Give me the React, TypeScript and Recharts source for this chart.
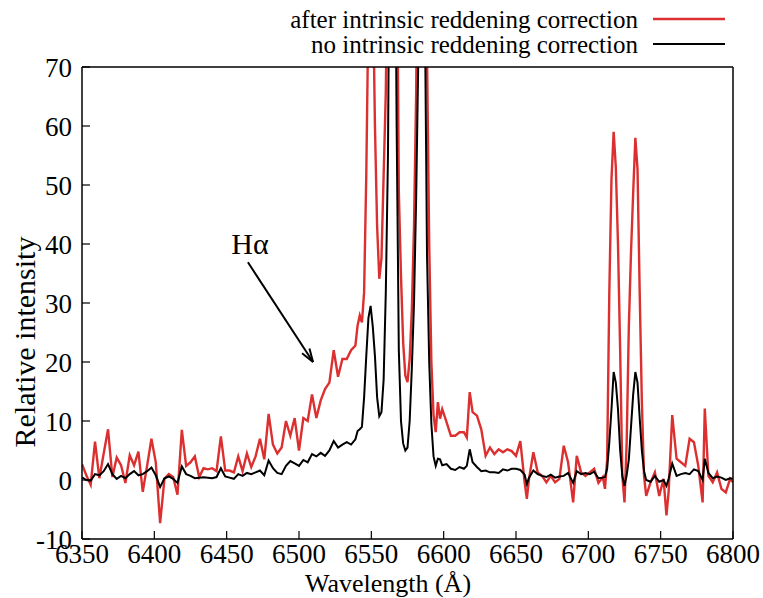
import { LineChart, Line, XAxis, YAxis, ReferenceLine } from 'recharts';

// wavelength grid (Å), finer around the emission lines
const wavelength = [
  6350, 6353, 6356, 6359, 6362, 6365, 6368, 6371, 6374, 6377,
  6380, 6383, 6386, 6389, 6392, 6395, 6398, 6401, 6404, 6407,
  6410, 6413, 6416, 6419, 6422, 6425, 6428, 6431, 6434, 6437,
  6440, 6443, 6446, 6449, 6452, 6455, 6458, 6461, 6464, 6467,
  6470, 6473, 6476, 6479, 6482, 6485, 6488, 6491, 6494, 6497,
  6500, 6503, 6506, 6509, 6512, 6515, 6518, 6521, 6524, 6527,
  6530, 6533, 6536,
  6539, 6540.5, 6542, 6543.5, 6545, 6546.5, 6548, 6549.5, 6551, 6552.5,
  6554, 6555.5, 6557, 6558.5, 6560, 6561.5, 6563, 6564.5, 6566, 6567.5,
  6569, 6570.5, 6572, 6573.5, 6575, 6576.5, 6578, 6579.5, 6581, 6582.5,
  6584, 6585.5, 6587, 6588.5, 6590, 6591.5, 6593, 6594.5, 6596, 6597.5,
  6599,
  6602, 6605, 6608, 6611, 6614, 6616, 6618, 6620, 6623, 6626,
  6629, 6632, 6635, 6638, 6641, 6644, 6647, 6650, 6653, 6656,
  6657.5, 6659, 6662, 6665, 6668, 6671, 6674, 6677, 6680, 6683,
  6686, 6689.5, 6692, 6695, 6698, 6701, 6704, 6707,
  6710, 6711.5, 6713, 6714.5, 6716, 6717.5, 6719, 6720.5, 6722, 6723.5,
  6725, 6726.5, 6728, 6729.5, 6731, 6732.5, 6734, 6735.5, 6737, 6738.5,
  6740, 6743, 6746, 6749, 6752, 6754, 6755.5, 6758, 6761, 6764,
  6767, 6770, 6773, 6776, 6779, 6780.5, 6783, 6786, 6789, 6792,
  6795, 6798, 6800,
];

// after intrinsic reddening correction
const corrected = [
  2.7, 0.8, -0.8, 6.5, 0.3, 4.5, 8.6, 0.5, 3.8, 2.5,
  -0.5, 4.2, 2.5, 4.8, -2.0, 2.4, 7.0, 3.0, -7.3, 0.2,
  1.0, 0.5, -2.5, 8.5, 2.4, 3.0, 4.0, 0.5, 2.0, 1.8,
  2.0, 1.5, 7.4, 1.6, 1.6, 1.3, 4.0, 1.5, 4.5, 2.2,
  4.0, 7.0, 3.5, 11.2, 6.0, 4.5, 5.5, 10.0, 7.5, 10.5,
  5.0, 10.5, 10.0, 14.5, 10.5, 13.5, 15.4, 16.5, 22.0, 17.5,
  20.5, 20.5, 22.0,
  22.8, 26.2, 27.9, 26.7, 31.8, 51.6, 80, 90, 85, 60,
  43, 34.1, 37.5, 51.6, 65.7, 95, 160, 200, 160, 100,
  48.8, 34.6, 23.3, 17.7, 16.6, 20.5, 28.9, 43, 65.7, 110,
  150, 140, 110, 72, 40, 20, 11, 8.1, 13.2, 10.4,
  12.0,
  9.8, 7.5, 7.5, 8.1, 8.1, 7.2, 14.9, 11.5, 10.9, 8.6,
  4.1, 5.5, 4.4, 5.2, 4.7, 5.2, 4.9, 4.1, 6.6, -0.5,
  -3.2, 0.2, 4.7, 1.3, 0.7, -0.4, 0.7, -0.4, 0.2, 5.8,
  3.0, -3.8, 4.1, 1.3, 0.7, 1.3, 1.9, -0.5,
  0.5, -1.5, 3.5, 31.8, 51, 59, 53, 40, 22, 0.7,
  -3.8, 6.4, 26, 38.6, 48.7, 58, 52.7, 31.8, 13.2, 0.7,
  -2.7, -0.4, 1.3, -2.7, 0.2, -6.0, -2.0, 11.0, 3.6, 3.0,
  2.4, 7.0, 6.4, 2.4, -3.8, 12.1, 0.7, -0.4, 1.3, -1.5,
  -2.1, 0.2, -0.4,
];

// no intrinsic reddening correction
const uncorrected = [
  0.45, 0.0, -0.1, 1.0, 0.8, 1.5, 2.7, 1.0, 0.2, 0.7,
  0.3, 1.0, 1.5, 0.8, 1.0, 1.5, 2.1, 0.8, -1.2, 0.3,
  0.6, 0.2, -0.5, 2.3, 1.0, 0.7, 0.3, 0.4, 0.45, 0.4,
  0.3, 0.5, 2.0, 0.6, 0.4, 0.2, 1.0, 0.7, 1.2, 1.0,
  1.3, 1.6, 0.8, 3.3, 2.0, 1.2, 1.0, 2.4, 3.2, 2.8,
  2.4, 3.4, 3.0, 4.4, 4.0, 4.6, 4.1, 5.0, 6.6, 5.5,
  6.0, 6.4, 6.0,
  6.9, 8.3, 8.6, 9.0, 14.0, 21.0, 27.5, 29.5, 26.0, 21.0,
  14.0, 10.8, 11.5, 17.0, 31.8, 55, 110, 140, 110, 60,
  22, 10, 6.2, 5.0, 5.5, 10.0, 19, 30, 48, 72,
  110, 100, 80, 38, 20, 9.5, 4.0, 2.4, 3.6, 3.5,
  2.5,
  2.7, 1.9, 1.7, 2.2, 1.9, 2.4, 5.2, 3.0, 2.2, 1.5,
  1.6, 1.3, 1.3, 1.2, 1.8, 1.6, 1.9, 1.9, 1.7, 0.9,
  -0.7, 0.4, 1.6, 1.0, 0.7, 0.5, 0.9, 0.4, 0.6, 0.7,
  1.2, -0.5, 1.5, 1.0, 1.2, 1.0, 1.4, 0.3,
  0.4, 0.5, 1.9, 6.4, 12, 18.3, 16.5, 12, 5, 0.7,
  -1.0, 0.8, 3.5, 9, 14.5, 18.3, 16.5, 10.5, 5.0, 1.5,
  0.0, -0.3, 0.7, -0.3, 0.0, -1.0, 0.2, 2.8, 0.7, 1.0,
  1.2, 1.0, 1.8, 1.5, 0.0, 3.6, 1.2, 0.3, 0.6, 0.4,
  0.0, 0.3, 0.2,
];

const xTicks = [6350, 6400, 6450, 6500, 6550, 6600, 6650, 6700, 6750, 6800];
const yTicks = [-10, 0, 10, 20, 30, 40, 50, 60, 70];

// annotation arrow: from label to the Hα wing
const arrowFrom = { x: 6464.7, y: 36.9 };
const arrowTo = { x: 6509.7, y: 20 };

const RED = '#dc3030';
const FONT = '"Liberation Serif", Tinos, "Noto Serif", FreeSerif, Times, "DejaVu Serif", serif';

const rows = wavelength.map((w, i) => ({ w, red: corrected[i], black: uncorrected[i] }));

const tickStyle = { fontSize: 27, fill: '#000', fontFamily: FONT };
const axisLine = { stroke: '#000', strokeWidth: 1.5 };
const tickLine = { stroke: '#000', strokeWidth: 1.2 };

function HalphaArrow(p: any) {
  const { x1, y1, x2, y2 } = p;
  const ang = Math.atan2(y2 - y1, x2 - x1);
  const len = 14;
  const spread = 0.32;
  const ax1 = x2 - len * Math.cos(ang - spread);
  const ay1 = y2 - len * Math.sin(ang - spread);
  const ax2 = x2 - len * Math.cos(ang + spread);
  const ay2 = y2 - len * Math.sin(ang + spread);
  return (
    <g>
      <line x1={x1} y1={y1} x2={x2} y2={y2} stroke="#000" strokeWidth={2} />
      <line x1={x2} y1={y2} x2={ax1} y2={ay1} stroke="#000" strokeWidth={2} />
      <line x1={x2} y1={y2} x2={ax2} y2={ay2} stroke="#000" strokeWidth={2} />
      <text x={x1 + 2} y={y1 - 8} textAnchor="middle" fontSize={30} fontFamily={FONT} fill="#000">
        Hα
      </text>
    </g>
  );
}

function LegendBox() {
  return (
    <svg width={763} height={64} style={{ position: 'absolute', left: 0, top: 0 }}>
      <text x={638} y={28} textAnchor="end" fontSize={25} fontFamily={FONT} fill="#000">
        after intrinsic reddening correction
      </text>
      <line x1={653} y1={19} x2={725} y2={19} stroke={RED} strokeWidth={2.5} />
      <text x={638} y={53} textAnchor="end" fontSize={25} fontFamily={FONT} fill="#000">
        no intrinsic reddening correction
      </text>
      <line x1={653} y1={44} x2={725} y2={44} stroke="#000" strokeWidth={2} />
    </svg>
  );
}

export default function App() {
  return (
    <div style={{ position: 'absolute', left: 0, top: 0, width: 763, height: 598, background: '#fff', fontFamily: FONT }}>
      <LineChart width={763} height={598} data={rows} margin={{ top: 57, right: 20, bottom: 19, left: 12 }}>
        <XAxis
          dataKey="w"
          type="number"
          domain={[6350, 6800]}
          ticks={xTicks}
          interval={0}
          allowDataOverflow
          height={40}
          tick={tickStyle}
          tickSize={-8}
          tickMargin={13}
          axisLine={axisLine}
          tickLine={tickLine}
          label={{
            content: () => (
              <text x={388} y={592} textAnchor="middle" fontSize={26} fontFamily={FONT} fill="#000">
                Wavelength (Å)
              </text>
            ),
          }}
        />
        <XAxis
          xAxisId="top"
          orientation="top"
          type="number"
          domain={[6350, 6800]}
          ticks={xTicks}
          interval={0}
          allowDataOverflow
          height={10}
          tick={false}
          tickSize={-8}
          axisLine={axisLine}
          tickLine={tickLine}
        />
        <YAxis
          type="number"
          domain={[-10, 70]}
          ticks={yTicks}
          interval={0}
          allowDataOverflow
          width={70}
          tick={tickStyle}
          tickSize={-8}
          tickMargin={18}
          axisLine={axisLine}
          tickLine={tickLine}
          label={{
            content: () => (
              <text
                x={35}
                y={342}
                transform="rotate(-90 35 342)"
                textAnchor="middle"
                fontSize={30}
                fontFamily={FONT}
                fill="#000"
              >
                Relative intensity
              </text>
            ),
          }}
        />
        <YAxis
          yAxisId="right"
          orientation="right"
          type="number"
          domain={[-10, 70]}
          ticks={yTicks}
          interval={0}
          allowDataOverflow
          width={10}
          tick={false}
          tickSize={-8}
          axisLine={axisLine}
          tickLine={tickLine}
        />
        <Line
          dataKey="red"
          type="linear"
          stroke={RED}
          strokeWidth={2.4}
          dot={false}
          isAnimationActive={false}
        />
        <Line
          dataKey="black"
          type="linear"
          stroke="#000"
          strokeWidth={2}
          dot={false}
          isAnimationActive={false}
        />
        <ReferenceLine
          segment={[arrowFrom, arrowTo]}
          stroke="#000"
          shape={HalphaArrow}
          ifOverflow="visible"
        />
      </LineChart>
      <LegendBox />
    </div>
  );
}
